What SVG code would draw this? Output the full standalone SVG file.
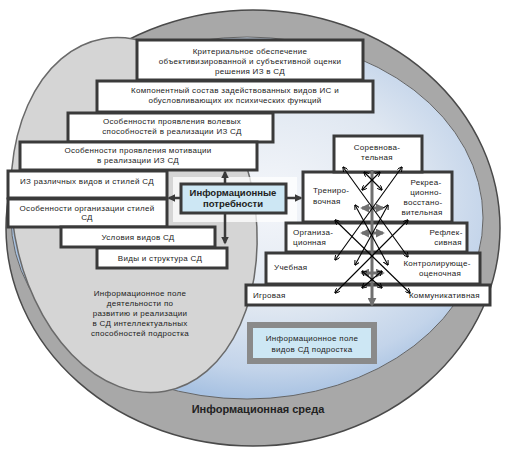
<svg xmlns="http://www.w3.org/2000/svg" width="505" height="450" viewBox="0 0 505 450">
<defs>
<radialGradient id="blueg" cx="0.55" cy="0.45" r="0.55">
<stop offset="0" stop-color="#f4f6fa"/>
<stop offset="0.55" stop-color="#dfe7f1"/>
<stop offset="0.85" stop-color="#c3d4ea"/>
<stop offset="1" stop-color="#a8c2e2"/>
</radialGradient>
<marker id="ah" viewBox="0 0 10 10" refX="8" refY="5" markerWidth="3" markerHeight="3" orient="auto-start-reverse" markerUnits="strokeWidth">
<path d="M0,0 L10,5 L0,10 z" fill="#3a3a3a"/>
</marker>
<marker id="bh" viewBox="0 0 10 10" refX="9" refY="5" markerWidth="5" markerHeight="5" orient="auto-start-reverse" markerUnits="strokeWidth">
<path d="M0,0 L10,5 L0,10" fill="none" stroke="#000" stroke-width="1.8"/>
</marker>
<marker id="gh" viewBox="0 0 10 10" refX="8" refY="5" markerWidth="3" markerHeight="3" orient="auto-start-reverse" markerUnits="strokeWidth">
<path d="M0,0 L10,5 L0,10 z" fill="#707070"/>
</marker>
</defs>
<style>
.box{fill:#fff;stroke:#3a3a3a;stroke-width:3}
.t{font-family:"Liberation Sans",Arial,sans-serif;font-size:8px;fill:#222;letter-spacing:0.3px}
.c{text-anchor:middle}
.b{font-weight:bold}
.dark{stroke:#3a3a3a;stroke-width:2.5;fill:none}
.lat{stroke:#000;stroke-width:1.1;fill:none}
.gr{stroke:#707070;stroke-width:3;fill:none}
</style>
<!-- background ellipses -->
<ellipse cx="253" cy="228" rx="247" ry="218" fill="#a8a8a8" stroke="#4a4a4a" stroke-width="1.5"/>
<ellipse cx="247" cy="218" rx="236" ry="181" fill="url(#blueg)" stroke="#666" stroke-width="1"/>
<ellipse cx="134" cy="215" rx="121" ry="179" transform="rotate(-10 134 215)" fill="#d5d5d5" stroke="#6a6a6a" stroke-width="1.5"/>

<text class="t c" x="140" y="296">Информационное поле</text>
<text class="t c" x="140" y="306">деятельности по</text>
<text class="t c" x="140" y="316">развитию и реализации</text>
<text class="t c" x="140" y="326">в СД интеллектуальных</text>
<text class="t c" x="140" y="336">способностей подростка</text>

<text class="t c b" x="258" y="413" style="font-size:11px;letter-spacing:0">Информационная среда</text>

<!-- left boxes -->
<g id="n1"><rect class="box" x="137" y="40" width="226" height="40"/>
<text class="t c" x="250" y="54">Критериальное обеспечение</text>
<text class="t c" x="250" y="64">объективизированной и субъективной оценки</text>
<text class="t c" x="250" y="74">решения ИЗ в СД</text></g>
<g id="n2"><rect class="box" x="97" y="81" width="276" height="31"/>
<text class="t c" x="235" y="93">Компонентный состав задействованных видов ИС и</text>
<text class="t c" x="235" y="103">обусловливающих их психических функций</text></g>
<g id="n3"><rect class="box" x="68" y="113" width="205" height="29"/>
<text class="t c" x="172" y="124">Особенности проявления волевых</text>
<text class="t c" x="172" y="134">способностей в реализации ИЗ СД</text></g>
<g id="n4"><rect class="box" x="20" y="142" width="237" height="28"/>
<text class="t c" x="138" y="153">Особенности проявления мотивации</text>
<text class="t c" x="138" y="163">в реализации ИЗ СД</text></g>
<g id="n5"><rect class="box" x="8" y="171" width="159" height="27"/>
<text class="t c" x="87" y="184">ИЗ различных видов и стилей СД</text></g>
<g id="n6"><rect class="box" x="8" y="199" width="159" height="28"/>
<text class="t c" x="87" y="211">Особенности организации стилей</text>
<text class="t c" x="87" y="220">СД</text></g>
<g id="n7"><rect class="box" x="61" y="227" width="154" height="20"/>
<text class="t c" x="138" y="240">Условия видов СД</text></g>
<g id="n8"><rect class="box" x="97" y="248" width="130" height="20"/>
<text class="t c" x="160" y="261">Виды и структура СД</text></g>

<!-- center -->
<rect x="173" y="177" width="124" height="45" fill="#fff" opacity="0.75"/>
<g id="center"><rect x="181" y="184" width="105" height="29" fill="#cde7f4" stroke="#3a3a3a" stroke-width="3"/>
<text class="t c b" x="233" y="196" style="font-size:9.5px;letter-spacing:0">Информационные</text>
<text class="t c b" x="233" y="207" style="font-size:9.5px;letter-spacing:0">потребности</text></g>

<!-- pyramid -->
<g id="p5"><rect class="box" x="246" y="285" width="244" height="20"/>
<text class="t" x="253" y="298">Игровая</text>
<text class="t" x="480" y="298" text-anchor="end">Коммуникативная</text></g>
<g id="p4"><rect class="box" x="266" y="253" width="214" height="31"/>
<text class="t" x="274" y="270">Учебная</text>
<text class="t c" x="437" y="266">Контролирующе-</text>
<text class="t c" x="440" y="276">оценочная</text></g>
<g id="p3"><rect class="box" x="286" y="223" width="181" height="29"/>
<text class="t" x="293" y="235">Организа-</text>
<text class="t" x="293" y="245">ционная</text>
<text class="t c" x="446" y="235">Рефлек-</text>
<text class="t c" x="448" y="245">сивная</text></g>
<g id="p2"><rect class="box" x="303" y="172" width="149" height="50"/>
<text class="t" x="313" y="193">Трениро-</text>
<text class="t" x="313" y="204">вочная</text>
<text class="t c" x="426" y="185">Рекреа-</text>
<text class="t c" x="426" y="195">ционно-</text>
<text class="t c" x="423" y="205">восстано-</text>
<text class="t c" x="422" y="215">вительная</text></g>
<g id="p1"><rect class="box" x="334" y="136" width="88" height="36"/>
<text class="t c" x="377" y="150">Соревнова-</text>
<text class="t c" x="377" y="160">тельная</text></g>

<g id="info2"><rect x="250" y="325" width="124" height="36" fill="#cde7f4" stroke="#8a8a8a" stroke-width="6"/>
<text class="t c" x="312" y="341">Информационное поле</text>
<text class="t c" x="312" y="352">видов СД подростка</text></g>

<!-- connectors -->
<g id="connectors">
<line class="dark" x1="225" y1="183" x2="225" y2="172" marker-end="url(#ah)"/>
<line class="dark" x1="180" y1="198" x2="169" y2="198" marker-end="url(#ah)"/>
<line class="dark" x1="225" y1="214" x2="225" y2="243" marker-end="url(#ah)"/>
<line class="dark" x1="287" y1="198" x2="301" y2="198" marker-end="url(#ah)"/>

<line class="gr" x1="372" y1="170" x2="372" y2="305" marker-end="url(#gh)"/>
<line class="gr" x1="362" y1="208" x2="383" y2="208" marker-start="url(#gh)" marker-end="url(#gh)" stroke-width="2"/>
<line class="gr" x1="362" y1="233" x2="383" y2="233" marker-start="url(#gh)" marker-end="url(#gh)" stroke-width="2"/>
<line class="gr" x1="362" y1="273" x2="383" y2="273" marker-start="url(#gh)" marker-end="url(#gh)" stroke-width="2"/>

<line class="lat" x1="343" y1="167" x2="408" y2="257" marker-start="url(#bh)" marker-end="url(#bh)"/>
<line class="lat" x1="402" y1="167" x2="335" y2="260" marker-start="url(#bh)" marker-end="url(#bh)"/>
<line class="lat" x1="335" y1="220" x2="410" y2="293" marker-start="url(#bh)" marker-end="url(#bh)"/>
<line class="lat" x1="408" y1="220" x2="335" y2="293" marker-start="url(#bh)" marker-end="url(#bh)"/>
<line class="lat" x1="355" y1="205" x2="388" y2="265" marker-start="url(#bh)" marker-end="url(#bh)"/>
<line class="lat" x1="388" y1="205" x2="355" y2="265" marker-start="url(#bh)" marker-end="url(#bh)"/>
<line class="lat" x1="364" y1="172" x2="382" y2="190" marker-start="url(#bh)" marker-end="url(#bh)"/>
<line class="lat" x1="380" y1="172" x2="362" y2="190" marker-start="url(#bh)" marker-end="url(#bh)"/>
<line class="lat" x1="362" y1="271" x2="382" y2="288" marker-start="url(#bh)" marker-end="url(#bh)"/>
<line class="lat" x1="382" y1="271" x2="362" y2="288" marker-start="url(#bh)" marker-end="url(#bh)"/>
</g>
</svg>
